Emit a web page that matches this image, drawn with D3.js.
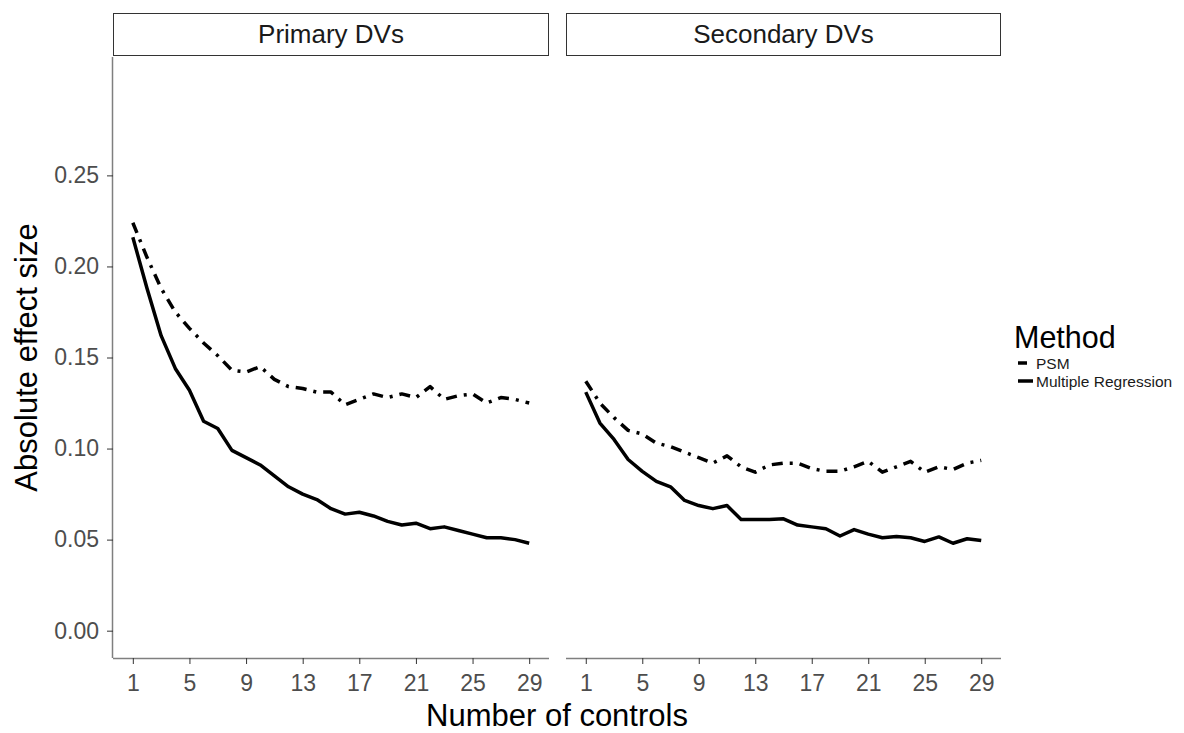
<!DOCTYPE html>
<html>
<head>
<meta charset="utf-8">
<script src="https://cdn.jsdelivr.net/npm/d3@7"></script>
<style>
  body { margin: 0; background: #fff; }
  svg text { font-family: "Liberation Sans", Arial, sans-serif; }
</style>
</head>
<body>
<svg id="chart" width="1184" height="733"></svg>
<script>
// Number of controls 1..29
const controls = d3.range(1, 30);
const panels = ['Primary DVs', 'Secondary DVs'];
const methods = ['PSM', 'Multiple Regression'];

const primaryPSM = [0.224, 0.205, 0.188, 0.175, 0.166, 0.158, 0.151, 0.143, 0.142, 0.145,
  0.138, 0.134, 0.133, 0.131, 0.131, 0.124, 0.127, 0.130, 0.128, 0.130,
  0.128, 0.134, 0.127, 0.129, 0.130, 0.125, 0.128, 0.127, 0.125];
const primaryMR = [0.216, 0.188, 0.162, 0.144, 0.132, 0.115, 0.111, 0.099, 0.095, 0.091,
  0.085, 0.079, 0.075, 0.072, 0.067, 0.064, 0.065, 0.063, 0.060, 0.058,
  0.059, 0.056, 0.057, 0.055, 0.053, 0.051, 0.051, 0.050, 0.048];
const secondaryPSM = [0.137, 0.125, 0.117, 0.110, 0.108, 0.103, 0.101, 0.098, 0.095, 0.092,
  0.096, 0.090, 0.087, 0.091, 0.092, 0.092, 0.089, 0.0875, 0.0875, 0.090,
  0.093, 0.087, 0.090, 0.093, 0.087, 0.090, 0.0885, 0.092, 0.0935];
const secondaryMR = [0.131, 0.114, 0.105, 0.094, 0.0875, 0.082, 0.079, 0.0715, 0.0687, 0.067,
  0.0687, 0.061, 0.061, 0.061, 0.0614, 0.058, 0.057, 0.056, 0.052, 0.0555,
  0.053, 0.051, 0.0517, 0.051, 0.049, 0.0515, 0.048, 0.0505, 0.0495];

const xTicks = [1, 5, 9, 13, 17, 21, 25, 29];
const yTicks = [0, 0.05, 0.10, 0.15, 0.20, 0.25];

const seriesByPanel = [
  [{ method: 'PSM', values: primaryPSM }, { method: 'Multiple Regression', values: primaryMR }],
  [{ method: 'PSM', values: secondaryPSM }, { method: 'Multiple Regression', values: secondaryMR }]
];

const svg = d3.select('#chart');
const plotTop = 57, plotBottom = 658;
const panelX = [[113, 549], [566, 1001]];
const gray = '#4d4d4d';
const dash = { 'PSM': '11,7,3,7', 'Multiple Regression': null };
const tickFont = 23;

const y = d3.scaleLinear().domain([-0.015, 0.315]).range([plotBottom, plotTop]);

panels.forEach((name, i) => {
  const [x0, x1] = panelX[i];
  const x = d3.scaleLinear().domain([-0.4, 30.4]).range([x0, x1]);
  const g = svg.append('g');

  // strip
  g.append('rect')
    .attr('x', x0 + 0.5).attr('y', 13.5)
    .attr('width', x1 - x0 - 1).attr('height', 42)
    .attr('fill', '#fff').attr('stroke', '#333').attr('stroke-width', 1);
  g.append('text')
    .attr('x', (x0 + x1) / 2).attr('y', 43)
    .attr('text-anchor', 'middle')
    .attr('font-size', 26).attr('fill', '#1a1a1a')
    .text(name);

  // x axis
  const xa = g.append('g')
    .attr('transform', `translate(0,${plotBottom})`)
    .call(d3.axisBottom(x).tickValues(xTicks).tickSize(6).tickPadding(11));
  xa.select('.domain').attr('stroke', '#7f7f7f').attr('stroke-width', 1.5)
    .attr('d', `M${x0},0.5H${x1}`);
  xa.selectAll('.tick line').attr('stroke', '#333');
  xa.selectAll('.tick text').attr('font-size', tickFont).attr('fill', gray)
    .attr('font-family', '"Liberation Sans", Arial, sans-serif');

  if (i === 0) {
    const ya = g.append('g')
      .attr('transform', `translate(${x0},0)`)
      .call(d3.axisLeft(y).tickValues(yTicks).tickFormat(d3.format('.2f')).tickSize(6).tickPadding(8));
    ya.select('.domain').attr('stroke', '#7f7f7f').attr('stroke-width', 1.5)
      .attr('d', `M-0.5,${plotTop}V${plotBottom}`);
    ya.selectAll('.tick line').attr('stroke', '#333');
    ya.selectAll('.tick text').attr('font-size', tickFont).attr('fill', gray)
      .attr('font-family', '"Liberation Sans", Arial, sans-serif');
  }

  const line = d3.line()
    .x((d, k) => x(controls[k]))
    .y(d => y(d));

  seriesByPanel[i].forEach(s => {
    g.append('path')
      .datum(s.values)
      .attr('d', line)
      .attr('fill', 'none')
      .attr('stroke', '#000')
      .attr('stroke-width', 3.5)
      .attr('stroke-linejoin', 'round')
      .attr('stroke-dasharray', dash[s.method]);
  });
});

// axis titles
svg.append('text')
  .attr('x', (panelX[0][0] + panelX[1][1]) / 2).attr('y', 726)
  .attr('text-anchor', 'middle').attr('font-size', 31).attr('fill', '#000')
  .text('Number of controls');
svg.append('text')
  .attr('transform', `translate(37,${(plotTop + plotBottom) / 2}) rotate(-90)`)
  .attr('text-anchor', 'middle').attr('font-size', 31).attr('fill', '#000')
  .text('Absolute effect size');

// legend
const legend = svg.append('g').attr('transform', 'translate(1014,0)');
legend.append('text').attr('x', 0).attr('y', 348)
  .attr('font-size', 30.5).attr('fill', '#000').text('Method');
methods.forEach((m, k) => {
  const ly = 363 + k * 18;
  legend.append('line')
    .attr('x1', 4).attr('x2', 19).attr('y1', ly).attr('y2', ly)
    .attr('stroke', '#000').attr('stroke-width', 3.5)
    .attr('stroke-dasharray', m === 'PSM' ? '9,20' : null);
  legend.append('text').attr('x', 22).attr('y', ly + 5.5)
    .attr('font-size', 15.5).attr('fill', '#1a1a1a').text(m);
});
</script>
</body>
</html>
